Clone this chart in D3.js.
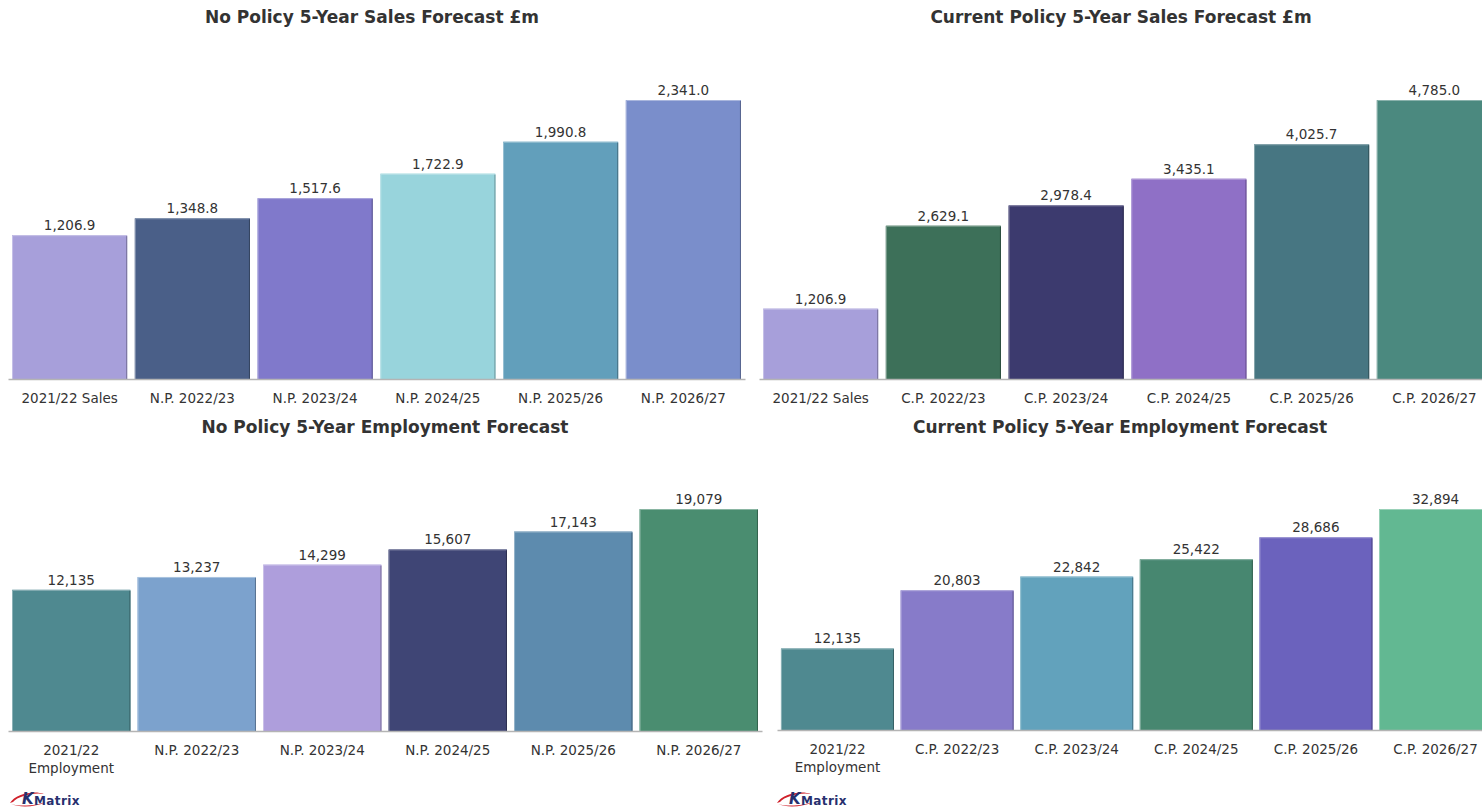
<!DOCTYPE html>
<html>
<head>
<meta charset="utf-8">
<script src="https://cdn.jsdelivr.net/npm/d3@7/dist/d3.min.js"></script>
<style>
  html, body { margin: 0; padding: 0; background: #fff; overflow: hidden; }
  svg { display: block; }
</style>
</head>
<body>
<svg id="chart" width="1482" height="808"></svg>
<script>
// ---- Data ----
const npSalesLabels = ["2021/22 Sales", "N.P. 2022/23", "N.P. 2023/24", "N.P. 2024/25", "N.P. 2025/26", "N.P. 2026/27"];
const npSalesValues = [1206.9, 1348.8, 1517.6, 1722.9, 1990.8, 2341.0];
const npSalesColors = ["#a79fda", "#4a5f88", "#8079cb", "#98d4dc", "#629fbb", "#7a8ecb"];

const cpSalesLabels = ["2021/22 Sales", "C.P. 2022/23", "C.P. 2023/24", "C.P. 2024/25", "C.P. 2025/26", "C.P. 2026/27"];
const cpSalesValues = [1206.9, 2629.1, 2978.4, 3435.1, 4025.7, 4785.0];
const cpSalesColors = ["#a79fda", "#3d7059", "#3c3a6e", "#8f70c6", "#477682", "#4b897f"];

const npEmpLabels = ["2021/22\nEmployment", "N.P. 2022/23", "N.P. 2023/24", "N.P. 2024/25", "N.P. 2025/26", "N.P. 2026/27"];
const npEmpValues = [12135, 13237, 14299, 15607, 17143, 19079];
const npEmpColors = ["#4f8990", "#7ca2cd", "#ae9edc", "#3f4575", "#5d8bae", "#4a8d70"];

const cpEmpLabels = ["2021/22\nEmployment", "C.P. 2022/23", "C.P. 2023/24", "C.P. 2024/25", "C.P. 2025/26", "C.P. 2026/27"];
const cpEmpValues = [12135, 20803, 22842, 25422, 28686, 32894];
const cpEmpColors = ["#4f8990", "#877bc9", "#62a2bc", "#478770", "#6b62bd", "#62b892"];

const titles = [
  "No Policy 5-Year Sales Forecast £m",
  "Current Policy 5-Year Sales Forecast £m",
  "No Policy 5-Year Employment Forecast",
  "Current Policy 5-Year Employment Forecast"
];

const salesFmt = d3.format(",.1f");
const empFmt = d3.format(",");

// ---- Panel layout ----
const panels = [
  { labels: npSalesLabels, values: npSalesValues, colors: npSalesColors, title: titles[0], fmt: salesFmt,
    x0: 8, x1: 745, base: 379, top: 100, pi: 0.062, po: 0.033, titleX: 372, titleY: 23 },
  { labels: cpSalesLabels, values: cpSalesValues, colors: cpSalesColors, title: titles[1], fmt: salesFmt,
    x0: 759, x1: 1496, base: 379, top: 100, pi: 0.062, po: 0.033, titleX: 1121, titleY: 23 },
  { labels: npEmpLabels, values: npEmpValues, colors: npEmpColors, title: titles[2], fmt: empFmt,
    x0: 8, x1: 762, base: 731, top: 509, pi: 0.0565, po: 0.032, titleX: 385, titleY: 433 },
  { labels: cpEmpLabels, values: cpEmpValues, colors: cpEmpColors, title: titles[3], fmt: empFmt,
    x0: 777, x1: 1496, base: 730, top: 509, pi: 0.055, po: 0.033, titleX: 1120, titleY: 433 }
];

const svg = d3.select("#chart");
const FONT = "'DejaVu Sans', Verdana, sans-serif";

panels.forEach(p => {
  const g = svg.append("g");

  const x = d3.scaleBand()
    .domain(p.labels)
    .range([p.x0, p.x1])
    .paddingInner(p.pi)
    .paddingOuter(p.po);

  const y = d3.scaleLinear()
    .domain([0, d3.max(p.values)])
    .range([p.base, p.top]);

  const rows = p.labels.map((l, i) => ({ label: l, value: p.values[i], color: p.colors[i] }));

  // bars
  const bar = g.selectAll("g.bar").data(rows).join("g").attr("class", "bar");
  bar.append("rect")
    .attr("x", d => x(d.label))
    .attr("y", d => y(d.value))
    .attr("width", x.bandwidth())
    .attr("height", d => y(0) - y(d.value))
    .attr("fill", d => d.color);
  // light bevel on top/left edges, shade on right edge
  bar.append("path")
    .attr("d", d => {
      const bx = x(d.label) + 0.5, by = y(d.value) + 0.5;
      return `M${bx},${y(0)}V${by}H${x(d.label) + x.bandwidth() - 0.5}`;
    })
    .attr("fill", "none")
    .attr("stroke", d => d3.interpolateRgb(d.color, "#ffffff")(0.35))
    .attr("stroke-width", 1);
  bar.append("path")
    .attr("d", d => {
      const bx = x(d.label) + x.bandwidth() - 0.5;
      return `M${bx},${y(d.value) + 1}V${y(0)}`;
    })
    .attr("fill", "none")
    .attr("stroke", d => d3.interpolateRgb(d.color, "#000000")(0.3))
    .attr("stroke-width", 1);

  // value labels
  g.selectAll("text.val").data(rows).join("text")
    .attr("class", "val")
    .attr("x", d => x(d.label) + x.bandwidth() / 2)
    .attr("y", d => y(d.value) - 5)
    .attr("text-anchor", "middle")
    .attr("font-family", FONT)
    .attr("font-size", 13.5)
    .attr("fill", "#333")
    .text(d => p.fmt(d.value));

  // category axis
  const axis = g.append("g")
    .attr("transform", `translate(0,${p.base})`)
    .call(d3.axisBottom(x).tickSize(0).tickSizeOuter(0).tickPadding(14));
  axis.select(".domain").attr("stroke", "#b4b4b4").attr("stroke-width", 1.5);
  axis.selectAll(".tick text")
    .attr("font-family", FONT)
    .attr("font-size", 13.5)
    .attr("fill", "#333")
    .each(function(d) {
      const parts = d.split("\n");
      if (parts.length > 1) {
        const t = d3.select(this);
        t.text(null);
        parts.forEach((s, i) => {
          t.append("tspan")
            .attr("x", 0)
            .attr("dy", i === 0 ? "0.71em" : "1.4em")
            .text(s);
        });
        t.attr("dy", null);
      }
    });

  // title
  g.append("text")
    .attr("x", p.titleX)
    .attr("y", p.titleY)
    .attr("text-anchor", "middle")
    .attr("font-family", FONT)
    .attr("font-weight", "bold")
    .attr("font-size", 17)
    .attr("fill", "#333")
    .text(p.title);
});

// ---- K-Matrix footer marks ----
function logo(x0, y0) {
  const lg = svg.append("g").attr("transform", `translate(${x0},${y0})`);
  lg.append("path")
    .attr("d", "M2,12 C7,3 26,-1 36,3 C26,1 10,5 5,11 Z")
    .attr("fill", "#d0202a");
  lg.append("path")
    .attr("d", "M3,13 C14,16 30,14 38,11 C28,16 12,17 3,13 Z")
    .attr("fill", "#d0202a");
  lg.append("text")
    .attr("x", 14).attr("y", 13)
    .attr("font-family", FONT)
    .attr("font-weight", "bold")
    .attr("font-style", "italic")
    .attr("font-size", 15)
    .attr("fill", "#27306e")
    .text("K");
  lg.append("text")
    .attr("x", 26).attr("y", 14)
    .attr("font-family", FONT)
    .attr("font-weight", "bold")
    .attr("font-size", 12)
    .attr("letter-spacing", 0.4)
    .attr("fill", "#27306e")
    .text("Matrix");
}
logo(8, 791);
logo(775, 791);
</script>
</body>
</html>
